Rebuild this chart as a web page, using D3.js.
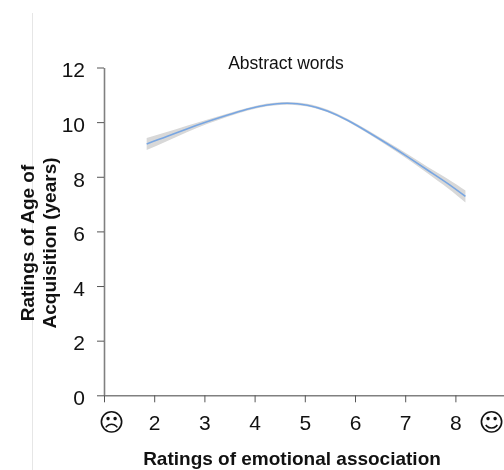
<!DOCTYPE html>
<html><head><meta charset="utf-8">
<script src="https://cdn.jsdelivr.net/npm/d3@7"></script>
<style>html,body{margin:0;padding:0;background:#fff}svg{display:block;filter:blur(0.35px)}text{font-family:"Liberation Sans",Arial,sans-serif;fill:#111}</style>
</head><body><svg id="c" width="504" height="470"></svg>
<script>
const title = "Abstract words";
const xTitle = "Ratings of emotional association";
const yTitleLines = ["Ratings of Age of", "Acquisition (years)"];
const xTicks = [1,2,3,4,5,6,7,8,9];
const xTickLabels = ["☹","2","3","4","5","6","7","8","☺"];
const yTicks = [0,2,4,6,8,10,12];
const curveX = [1.85,2.25,2.65,3.05,3.45,3.85,4.25,4.65,5.05,5.45,5.85,6.25,6.65,7.05,7.45,7.85,8.2];
const curveY = [9.20,9.47,9.75,10.01,10.25,10.47,10.63,10.69,10.62,10.41,10.07,9.65,9.20,8.73,8.24,7.75,7.28];
const bandHalf = [0.22,0.17,0.12,0.08,0.06,0.05,0.05,0.05,0.05,0.05,0.05,0.06,0.07,0.09,0.12,0.17,0.22];

const svg = d3.select("#c");
const x = d3.scaleLinear().domain([1,9]).range([104,505.6]);
const y = d3.scaleLinear().domain([0,12]).range([395.3,67.5]);

svg.append("line").attr("x1",32.5).attr("x2",32.5).attr("y1",13).attr("y2",470)
  .attr("stroke","#e6e6e6").attr("stroke-width",1);

const idx = d3.range(curveX.length);
const cv = d3.curveNatural;
svg.append("path").attr("d", d3.area().curve(cv)
    .x(i=>x(curveX[i])).y0(i=>y(curveY[i]-bandHalf[i])).y1(i=>y(curveY[i]+bandHalf[i]))(idx))
  .attr("fill","#d8d8d8");
svg.append("path").attr("d", d3.line().curve(cv).x(i=>x(curveX[i])).y(i=>y(curveY[i]))(idx))
  .attr("fill","none").attr("stroke","#78a6e2").attr("stroke-width",1.6);

const FONT = '"Liberation Sans",Arial,sans-serif';
const yAxis = svg.append("g").attr("transform","translate(104,0)")
  .call(d3.axisLeft(y).tickValues(yTicks).tickSize(7).tickPadding(12).tickSizeOuter(0));
yAxis.selectAll("text").attr("font-size",21).attr("dy","0.44em").style("font-family",FONT).attr("fill","#111");
yAxis.select(".domain").attr("stroke","#808080").attr("stroke-width",1.6);
yAxis.selectAll(".tick line").attr("stroke","#555");

const xAxis = svg.append("g").attr("transform","translate(0,395.3)")
  .call(d3.axisBottom(x).tickValues(xTicks).tickFormat((d,i)=>xTickLabels[i]).tickSize(7).tickPadding(13).tickSizeOuter(0));
xAxis.select(".domain").attr("stroke","#808080").attr("stroke-width",1.6);
xAxis.selectAll(".tick line").attr("stroke","#555");
xAxis.selectAll(".tick").filter(d=>d===9).select("line").remove();
xAxis.selectAll("text").attr("font-size",21).style("font-family",FONT).attr("fill","#111");
xAxis.selectAll(".tick").filter(d=>d===1||d===9).select("text")
  .attr("font-size",25).attr("y",20.5).attr("dy","0.62em")
  .style("font-family",'"DejaVu Sans",sans-serif');
xAxis.selectAll(".tick").filter(d=>d===9).select("text").attr("dx",-14.5);
xAxis.selectAll(".tick").filter(d=>d===1).select("text").attr("dx",7);

svg.append("text").attr("x",286).attr("y",69).attr("text-anchor","middle").attr("font-size",17.5).text(title);
svg.append("text").attr("x",292).attr("y",465).attr("text-anchor","middle").attr("font-size",19).attr("font-weight","bold").text(xTitle);
yTitleLines.forEach((t,i)=>{
  svg.append("text").attr("transform",`translate(${34+i*22},243) rotate(-90)`)
    .attr("text-anchor","middle").attr("font-size",19).attr("font-weight","bold").text(t);
});
</script></body></html>
